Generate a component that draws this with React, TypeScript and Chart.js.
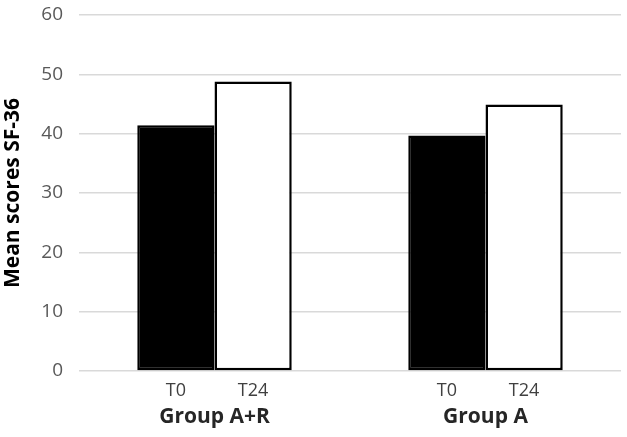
import React, { useEffect, useRef } from "react";
import { Chart, registerables } from "chart.js";

Chart.register(...registerables);

const groups = ["Group A+R", "Group A"];
const timepoints = ["T0", "T24"];
const t0Values = [41.4, 39.7];
const t24Values = [48.8, 44.9];
const yTicks = [0, 10, 20, 30, 40, 50, 60];
const yTitle = "Mean scores SF-36";

const FONT = "'Open Sans', sans-serif";

const subLabelPlugin = {
  id: "subLabels",
  afterDraw(chart: any) {
    const ctx = chart.ctx;
    ctx.save();
    ctx.font = `18px ${FONT}`;
    ctx.fillStyle = "#404040";
    ctx.textAlign = "center";
    ctx.textBaseline = "middle";
    const yPos = chart.chartArea.bottom + 20;
    chart.data.datasets.forEach((ds: any, i: number) => {
      const meta = chart.getDatasetMeta(i);
      meta.data.forEach((el: any) => {
        ctx.fillText(ds.label, el.x, yPos);
      });
    });
    ctx.restore();
  },
};

export default function App() {
  const ref = useRef<HTMLCanvasElement | null>(null);
  useEffect(() => {
    document.body.style.margin = "0";
    const canvas = ref.current;
    if (!canvas) return;
    const chart = new Chart(canvas, {
      type: "bar",
      data: {
        labels: groups,
        datasets: [
          {
            label: timepoints[0],
            data: t0Values,
            backgroundColor: "#000000",
            borderColor: "#000000",
            borderWidth: 2.5,
            borderSkipped: false,
          },
          {
            label: timepoints[1],
            data: t24Values,
            backgroundColor: "#ffffff",
            borderColor: "#000000",
            borderWidth: 2.5,
            borderSkipped: false,
          },
        ],
      },
      options: {
        animation: false,
        responsive: false,
        layout: { padding: { top: 15, right: 6, left: 0, bottom: 0 } },
        plugins: { legend: { display: false }, tooltip: { enabled: false } },
        datasets: { bar: { categoryPercentage: 0.57, barPercentage: 1 } },
        scales: {
          x: {
            grid: { display: false },
            border: { display: false },
            ticks: {
              padding: 25,
              color: "#262626",
              font: { family: FONT, size: 21, weight: "bold" },
            },
            afterFit(scale: any) {
              scale.height = 66;
              scale.paddingLeft = 0;
              scale.paddingRight = 0;
            },
          },
          y: {
            min: 0,
            max: 60,
            afterBuildTicks(scale: any) {
              scale.ticks = yTicks.map((v) => ({ value: v }));
            },
            grid: { color: "#d9d9d9", lineWidth: 1.5, drawTicks: false },
            border: { display: false },
            ticks: {
              padding: 16,
              color: "#595959",
              font: { family: FONT, size: 19 },
            },
            title: {
              display: true,
              text: yTitle,
              color: "#000000",
              font: { family: FONT, size: 21, weight: "bold" },
              padding: { top: 0, bottom: 0 },
            },
            afterFit(scale: any) {
              scale.width = 79;
              scale.paddingTop = 0;
              scale.paddingBottom = 0;
            },
          },
        },
      },
      plugins: [subLabelPlugin],
    });
    return () => chart.destroy();
  }, []);
  return <canvas ref={ref} width={627} height={437} style={{ display: "block" }} />;
}
